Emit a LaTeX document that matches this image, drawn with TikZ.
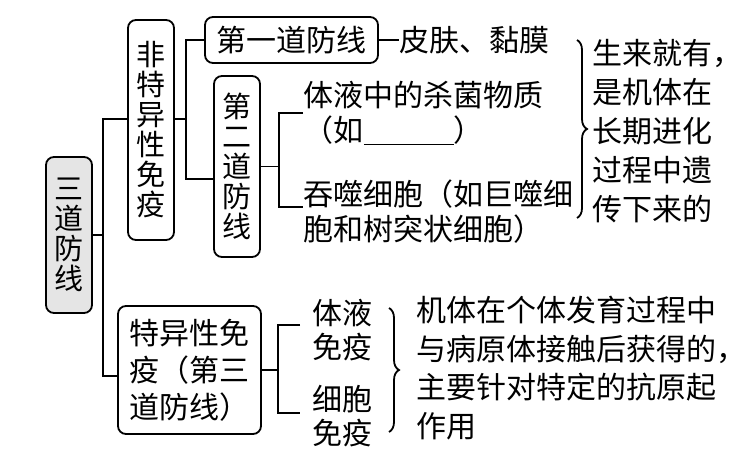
\documentclass[tikz,border=0pt]{standalone}
\usepackage{fontspec}
\setmainfont{Noto Sans CJK SC}
\usetikzlibrary{positioning, calc, decorations.pathreplacing}

\begin{document}
\begin{tikzpicture}[
    x=0.5pt, y=-0.5pt,
    line width=0.9pt,
    box/.style={rectangle, draw, line width=0.9pt, rounded corners=4pt,
                align=center, inner sep=0pt},
    vbox/.style={box, minimum width=23pt, font=\fontsize{14.5pt}{15pt}\selectfont},
    hbox/.style={box, font=\fontsize{15pt}{18.5pt}\selectfont},
    txt/.style={anchor=west, align=left, inner sep=0pt, font=\fontsize{15pt}{19.5pt}\selectfont},
    brc/.style={decorate, decoration={brace, amplitude=5pt}},
  ]
  \useasboundingbox (0,0) rectangle (755,455);

  % 方框
  \node[vbox, fill=black!10, minimum height=78pt] (sandao) at (69,235) {三\\道\\防\\线};
  \node[vbox, minimum height=110pt] (feite) at (151,130) {非\\特\\异\\性\\免\\疫};
  \node[hbox, minimum width=86.5pt, minimum height=23pt] (diyi) at (291.5,40) {第一道防线};
  \node[vbox, minimum height=90.5pt] (dier) at (237,166.5) {第\\二\\道\\防\\线};
  \node[hbox, minimum width=71.5pt, minimum height=64pt] (teyi) at (189.5,370) {特异性免\\疫（第三\\道防线）};

  % 文字
  \node[txt] (pifu) at (399,40) {皮肤、黏膜};
  \node[txt, font=\fontsize{15pt}{17.5pt}\selectfont] (shajun) at (303,113) {体液中的杀菌物质\\（如\underline{\hspace{45pt}}）};
  \node[txt, font=\fontsize{15pt}{17.5pt}\selectfont] (tunshi) at (303,212) {吞噬细胞（如巨噬细\\胞和树突状细胞）};
  \node[txt] (shenglai) at (592,131) {生来就有，\\是机体在\\长期进化\\过程中遗\\传下来的};
  \node[txt, inner xsep=6pt, font=\fontsize{15pt}{17pt}\selectfont] (tiye) at (300,330) {体液\\免疫};
  \node[txt, inner xsep=6pt, font=\fontsize{15pt}{17pt}\selectfont] (xibao) at (300,416) {细胞\\免疫};
  \node[txt, font=\fontsize{15pt}{19.25pt}\selectfont] (jiti) at (416,368) {机体在个体发育过程中\\与病原体接触后获得的，\\主要针对特定的抗原起\\作用};

  % 连线
  \coordinate (t1) at (103,119);
  \coordinate (t2) at (103,376);
  \draw (sandao.east) -- (sandao.east -| t1);
  \draw (feite.west |- t1) -- (t1) -- (t2) -- (teyi.west |- t2);

  \coordinate (f1) at (186,40);
  \coordinate (f2) at (186,179);
  \draw (feite.east |- t1) -- (t1 -| f1);
  \draw (diyi.west) -- (f1) -- (f2) -- (dier.west |- f2);
  \draw (diyi.east) -- (pifu.west);

  \coordinate (d1) at (279,113);
  \coordinate (d2) at (279,207);
  \draw (dier.east) -- (dier.east -| d1);
  \draw (shajun.west |- d1) -- (d1) -- (d2) -- (tunshi.west |- d2);

  \coordinate (s1) at (278,325);
  \coordinate (s2) at (278,413);
  \draw (teyi.east) -- (teyi.east -| s1);
  \draw (tiye.west |- s1) -- (s1) -- (s2) -- (xibao.west |- s2);

  % 大括号
  \draw[brc] (577,40) -- (577,218);
  \draw[brc] (389,308) -- (389,432);
\end{tikzpicture}
\end{document}
